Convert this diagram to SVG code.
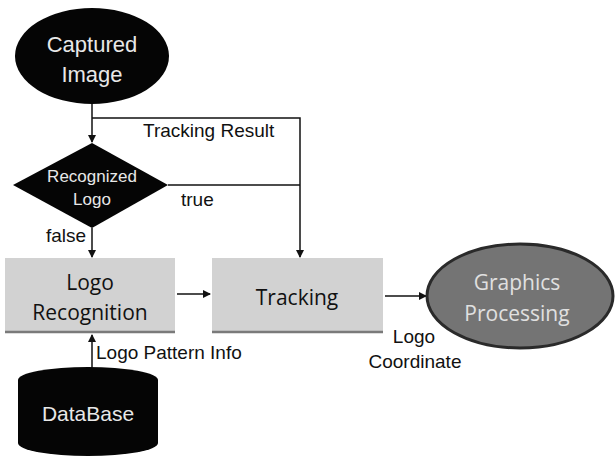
<svg xmlns="http://www.w3.org/2000/svg" width="615" height="460" viewBox="0 0 615 460">
<style>
.lbl{font-family:"Liberation Sans",Arial,sans-serif;font-size:19px;fill:#111}
.wt{font-family:"Liberation Sans",Arial,sans-serif;fill:#e8e8e8;text-anchor:middle}
.bx{font-family:"Open Sans","Noto Sans",sans-serif;font-size:21px;fill:#111;text-anchor:middle}
.ln{stroke:#111;stroke-width:1.5;fill:none}
.box{fill:#d2d2d2}
.boxb{stroke:#7a7a7a;stroke-width:2.5}
</style>
<defs>
<marker id="ah" markerWidth="8" markerHeight="8" refX="7" refY="4" orient="auto" markerUnits="userSpaceOnUse">
<path d="M0,0 L8,4 L0,8 z" fill="#111"/>
</marker>
</defs>
<rect width="615" height="460" fill="#fff"/>
<g id="connectors">
<line class="ln" x1="92" y1="103" x2="92" y2="142" marker-end="url(#ah)"/>
<polyline class="ln" points="92,118 300,118 300,257" marker-end="url(#ah)"/>
<line class="ln" x1="168" y1="185" x2="300" y2="185"/>
<line class="ln" x1="92" y1="228" x2="92" y2="257" marker-end="url(#ah)"/>
<line class="ln" x1="177" y1="294" x2="210" y2="294" marker-end="url(#ah)"/>
<line class="ln" x1="385" y1="296" x2="426" y2="296" marker-end="url(#ah)"/>
<line class="ln" x1="92" y1="368" x2="92" y2="335" marker-end="url(#ah)"/>
<text class="lbl" x="143" y="137">Tracking Result</text>
<text class="lbl" x="181" y="206">true</text>
<text class="lbl" x="46" y="242">false</text>
<text class="lbl" x="96" y="359" font-size="20">Logo Pattern Info</text>
<text class="lbl" x="414" y="343" text-anchor="middle" font-size="21">Logo</text>
<text class="lbl" x="415" y="368" text-anchor="middle" font-size="21">Coordinate</text>
</g>
<g id="captured">
<ellipse cx="92" cy="56" rx="77" ry="48" fill="#050505"/>
<text class="wt" x="92" y="52" font-size="22">Captured</text>
<text class="wt" x="92" y="82" font-size="22">Image</text>
</g>
<g id="recognized">
<polygon points="92,143 168,185 92,228 13,185" fill="#050505"/>
<text class="wt" x="92" y="182" font-size="17">Recognized</text>
<text class="wt" x="92" y="205" font-size="17">Logo</text>
</g>
<g id="logorecognition">
<rect class="box" x="5" y="258" width="170" height="75"/>
<line class="boxb" x1="5" y1="332" x2="175" y2="332"/>
<text class="bx" x="90" y="290" font-size="22">Logo</text>
<text class="bx" x="90" y="320" font-size="22">Recognition</text>
</g>
<g id="tracking">
<rect class="box" x="212" y="258" width="171" height="75"/>
<line class="boxb" x1="212" y1="332" x2="383" y2="332"/>
<text class="bx" x="297" y="305">Tracking</text>
</g>
<g id="graphics">
<ellipse cx="520" cy="296" rx="93" ry="52" fill="#747474" stroke="#2a2a2a" stroke-width="3"/>
<text class="bx" x="517" y="290" font-size="22" style="fill:#e0e0e0">Graphics</text>
<text class="bx" x="517" y="321" font-size="22" style="fill:#e0e0e0">Processing</text>
</g>
<g id="database">
<path d="M18,380 A70,13 0 0 1 158,380 L158,443 A70,13 0 0 1 18,443 Z" fill="#050505"/>
<text class="wt" x="88" y="421" font-size="21">DataBase</text>
</g>
</svg>
